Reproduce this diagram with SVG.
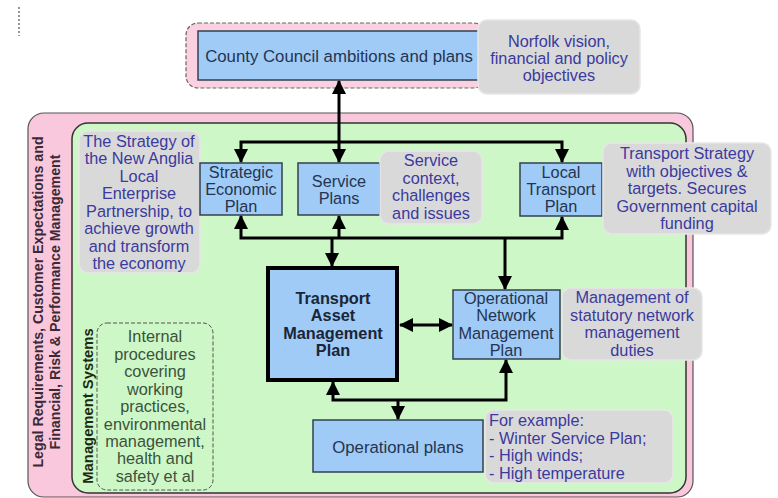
<svg xmlns="http://www.w3.org/2000/svg" width="778" height="498" viewBox="0 0 778 498">
<style>
text{font-family:"Liberation Sans",Arial,sans-serif;}
.node{fill:#9fcbf6;stroke:#33414f;stroke-width:1.5;}
.ntext{font-size:16.3px;fill:#253450;text-anchor:middle;}
.call{fill:#d9d9d9;stroke:#e6e6e6;stroke-width:1.5;}
.ctext{font-size:16.3px;fill:#3b3a9e;text-anchor:middle;}
.conn{fill:none;stroke:#000;stroke-width:3;}
.mtext{font-size:16.3px;fill:#3c523c;text-anchor:middle;}
.vt{font-size:14.2px;font-weight:bold;fill:#3a2a35;text-anchor:middle;}
</style>
<defs>
<marker id="ah" markerUnits="userSpaceOnUse" markerWidth="14" markerHeight="14" refX="13" refY="7" orient="auto-start-reverse" viewBox="0 0 14 14">
<path d="M0,0 L14,7 L0,14 z" fill="#000"/>
</marker>
</defs>
<rect width="778" height="498" fill="#ffffff"/>
<line x1="19" y1="7" x2="19" y2="36" stroke="#777" stroke-width="1.5" stroke-dasharray="2,2"/>

<g id="outer-frame">
<rect x="28" y="113" width="665" height="384" rx="16" fill="#fac8dc" stroke="#555" stroke-width="1.2"/>
<text class="vt" transform="translate(43,302) rotate(-90)">Legal Requirements, Customer Expectations and</text>
<text class="vt" transform="translate(60,302) rotate(-90)">Financial, Risk &amp; Performance Management</text>
</g>
<g id="inner-frame">
<rect x="72" y="123" width="614" height="370" rx="16" fill="#cdf7c6" stroke="#333" stroke-width="1.5"/>
<text class="vt" style="font-size:14.8px;fill:#1c2a10" transform="translate(93,406) rotate(-90)">Management Systems</text>
</g>

<g id="county-council">
<rect x="186" y="23" width="300" height="65" rx="12" fill="#fbd0e0" stroke="#666" stroke-width="1.2" stroke-dasharray="4,2"/>
<rect x="198" y="31" width="282" height="49" class="node"/>
<text class="ntext" x="339" y="62" style="font-size:16.8px">County Council ambitions and plans</text>
</g>
<g id="norfolk-vision">
<rect x="478" y="20" width="162" height="74" rx="9" class="call"/>
<text class="ctext" x="559" y="47">Norfolk vision,</text>
<text class="ctext" x="559" y="64">financial and policy</text>
<text class="ctext" x="559" y="81">objectives</text>
</g>

<g id="new-anglia">
<rect x="79" y="131" width="121" height="142" rx="9" class="call"/>
<text class="ctext" x="139" y="147">The Strategy of</text>
<text class="ctext" x="139" y="164">the New Anglia</text>
<text class="ctext" x="139" y="182">Local</text>
<text class="ctext" x="139" y="199">Enterprise</text>
<text class="ctext" x="139" y="217">Partnership, to</text>
<text class="ctext" x="139" y="234">achieve growth</text>
<text class="ctext" x="139" y="252">and transform</text>
<text class="ctext" x="139" y="269">the economy</text>
</g>

<g id="strategic-economic-plan">
<rect x="200" y="163" width="82" height="52" class="node"/>
<text class="ntext" x="241" y="178">Strategic</text>
<text class="ntext" x="241" y="195">Economic</text>
<text class="ntext" x="241" y="212">Plan</text>
</g>
<g id="service-plans">
<rect x="298" y="163" width="82" height="52" class="node"/>
<text class="ntext" x="339" y="187">Service</text>
<text class="ntext" x="339" y="204">Plans</text>
</g>
<g id="service-context">
<rect x="380" y="151" width="102" height="73" rx="9" class="call"/>
<text class="ctext" x="431" y="166">Service</text>
<text class="ctext" x="431" y="184">context,</text>
<text class="ctext" x="431" y="201">challenges</text>
<text class="ctext" x="431" y="219">and issues</text>
</g>
<g id="local-transport-plan">
<rect x="520" y="163" width="82" height="53" class="node"/>
<text class="ntext" x="561" y="178">Local</text>
<text class="ntext" x="561" y="195">Transport</text>
<text class="ntext" x="561" y="212">Plan</text>
</g>
<g id="transport-strategy">
<rect x="603" y="143" width="168" height="91" rx="9" class="call"/>
<text class="ctext" x="687" y="159">Transport Strategy</text>
<text class="ctext" x="687" y="177">with objectives &amp;</text>
<text class="ctext" x="687" y="194">targets. Secures</text>
<text class="ctext" x="687" y="212">Government capital</text>
<text class="ctext" x="687" y="229">funding</text>
</g>

<g id="tamp">
<rect x="268" y="268" width="129" height="112" fill="#9fcbf6" stroke="#000" stroke-width="4"/>
<text class="ntext" x="333" y="304" style="font-weight:bold;fill:#1b2537">Transport</text>
<text class="ntext" x="333" y="321" style="font-weight:bold;fill:#1b2537">Asset</text>
<text class="ntext" x="333" y="339" style="font-weight:bold;fill:#1b2537">Management</text>
<text class="ntext" x="333" y="356" style="font-weight:bold;fill:#1b2537">Plan</text>
</g>
<g id="onmp">
<rect x="453" y="290" width="107" height="69" class="node"/>
<text class="ntext" x="506" y="304">Operational</text>
<text class="ntext" x="506" y="321">Network</text>
<text class="ntext" x="506" y="339">Management</text>
<text class="ntext" x="506" y="356">Plan</text>
</g>
<g id="statutory">
<rect x="562" y="288" width="140" height="72" rx="9" class="call"/>
<text class="ctext" x="632" y="303">Management of</text>
<text class="ctext" x="632" y="321">statutory network</text>
<text class="ctext" x="632" y="338">management</text>
<text class="ctext" x="632" y="356">duties</text>
</g>

<g id="management-systems">
<rect x="97" y="323" width="116" height="167" rx="10" fill="none" stroke="#555" stroke-width="1" stroke-dasharray="4,2"/>
<text class="mtext" x="155" y="342">Internal</text>
<text class="mtext" x="155" y="360">procedures</text>
<text class="mtext" x="155" y="377">covering</text>
<text class="mtext" x="155" y="395">working</text>
<text class="mtext" x="155" y="412">practices,</text>
<text class="mtext" x="155" y="430">environmental</text>
<text class="mtext" x="155" y="447">management,</text>
<text class="mtext" x="155" y="464">health and</text>
<text class="mtext" x="155" y="482">safety et al</text>
</g>

<g id="operational-plans">
<rect x="313" y="420" width="170" height="52" class="node"/>
<text class="ntext" x="398" y="453" style="font-size:16.8px">Operational plans</text>
</g>
<g id="for-example">
<rect x="485" y="410" width="188" height="73" rx="9" class="call"/>
<text class="ctext" x="489" y="426" style="text-anchor:start">For example:</text>
<text class="ctext" x="489" y="444" style="text-anchor:start">- Winter Service Plan;</text>
<text class="ctext" x="489" y="461" style="text-anchor:start">- High winds;</text>
<text class="ctext" x="489" y="479" style="text-anchor:start">- High temperature</text>
</g>

<g id="connectors">
<path class="conn" d="M339,81 L339,162" marker-start="url(#ah)" marker-end="url(#ah)"/>
<path class="conn" d="M241,162 L241,142 L562,142 L562,162" marker-start="url(#ah)" marker-end="url(#ah)"/>
<path class="conn" d="M241,216 L241,238 L562,238 L562,217" marker-start="url(#ah)" marker-end="url(#ah)"/>
<path class="conn" d="M339,238 L339,216" marker-end="url(#ah)"/>
<path class="conn" d="M332,238 L332,266" marker-end="url(#ah)"/>
<path class="conn" d="M505,238 L505,289" marker-end="url(#ah)"/>
<path class="conn" d="M400,325 L452,325" marker-start="url(#ah)" marker-end="url(#ah)"/>
<path class="conn" d="M333,382 L333,400 L506,400 L506,360" marker-start="url(#ah)" marker-end="url(#ah)"/>
<path class="conn" d="M398,400 L398,419" marker-end="url(#ah)"/>
</g>
</svg>
